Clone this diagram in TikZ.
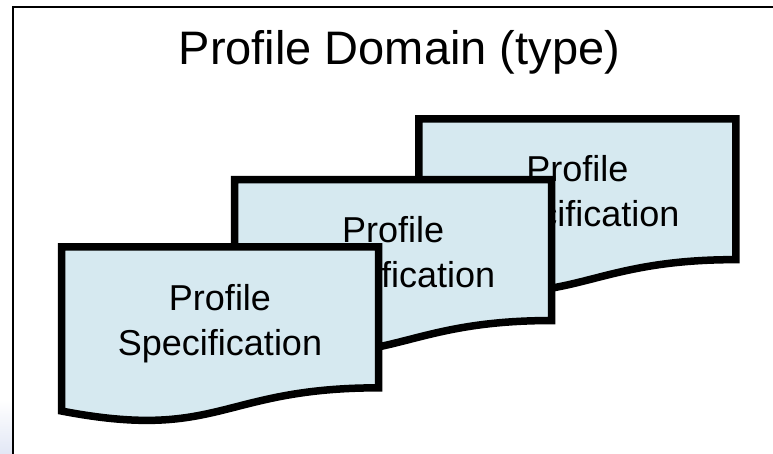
\documentclass[tikz,border=0pt]{standalone}
\usepackage{fontspec}
\setmainfont{Liberation Sans}
\definecolor{docfill}{RGB}{214,233,240}
\definecolor{fadeblue}{RGB}{226,231,245}
\tikzset{
  docshape/.style={draw=black, line width=7.5pt, fill=docfill, line join=miter},
  doctext/.style={font=\fontsize{36}{45}\selectfont, align=center, inner sep=0pt},
  frameline/.style={draw=black, line width=2pt},
}
\newcommand\mydocbox[3]{%
  \def\dw{317}\def\dh{175.6}%
  \draw[docshape] (#2,#3) -- ({#2+\dw},#3) -- ({#2+\dw},{#3+0.802*\dh})
    .. controls ({#2+\dw/2},{#3+0.802*\dh}) and ({#2+\dw/2},{#3+1.1075*\dh}) .. (#2,{#3+0.934*\dh}) -- cycle;
  \node[doctext] (#1) at ({#2+\dw/2},{#3+76.2}) {Profile\\Specification};
}
\begin{document}
\begin{tikzpicture}[x=1pt,y=-1pt]
\useasboundingbox (0,0) rectangle (773,454);
\clip (0,0) rectangle (773,454);
\fill[white] (0,0) rectangle (773,454);
\shade[top color=white, bottom color=fadeblue] (0,400) rectangle (12,454);
\draw[frameline] (13.3,470) -- (13.3,6.7) -- (790,6.7);
\node[anchor=base, inner sep=0pt] (title) at (399.4,65) {\fontsize{47}{56}\selectfont Profile Domain (type)};
\mydocbox{specc}{418.8}{118.8}
\mydocbox{specb}{234.7}{179.7}
\mydocbox{speca}{61.5}{247}
\end{tikzpicture}
\end{document}
